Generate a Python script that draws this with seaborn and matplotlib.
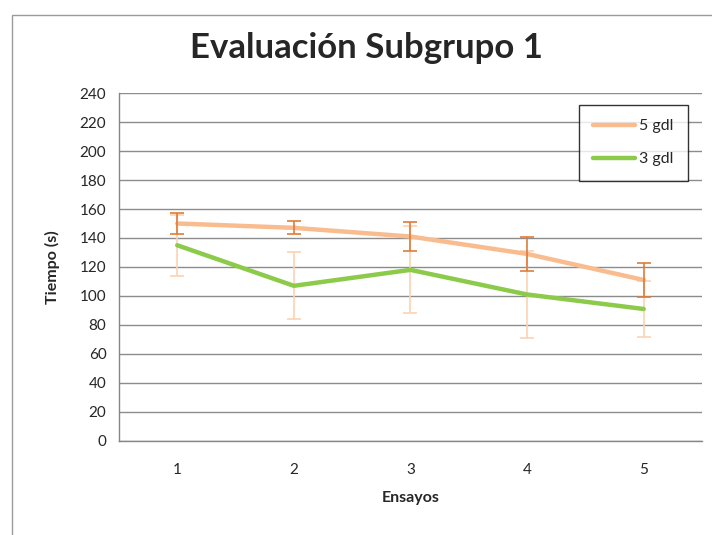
import matplotlib
matplotlib.use("Agg")
import matplotlib.pyplot as plt
import seaborn as sns
import pandas as pd
from matplotlib.patches import Rectangle

ensayos = [1, 2, 3, 4, 5]
serie_5gdl = [150, 147, 141, 129, 111]
err_5gdl = [7.5, 4.5, 10, 11.5, 11.5]
serie_3gdl = [135, 107, 118, 101, 91]
err_3gdl = [21, 23, 30, 30, 19]
series_names = ["5 gdl", "3 gdl"]
yticks = list(range(0, 241, 20))

sns.set_style("white")
plt.rcParams['font.family'] = ['Lato', 'DejaVu Sans']

df = pd.DataFrame({
    "Ensayos": ensayos * 2,
    "Tiempo": serie_5gdl + serie_3gdl,
    "Serie": [series_names[0]] * 5 + [series_names[1]] * 5,
})

fig = plt.figure(figsize=(7.12, 5.35), dpi=100)
ax = fig.add_axes([0.167, 0.176, 0.819, 0.650])

c_orange = "#F9BC8E"
c_green = "#8CCB4A"

# error bars
ax.errorbar(ensayos, serie_3gdl, yerr=err_3gdl, fmt="none", ecolor="#FBD3B4",
            elinewidth=1.2, capsize=5, capthick=1.2, zorder=2)
ax.errorbar(ensayos, serie_5gdl, yerr=err_5gdl, fmt="none", ecolor="#E07B39",
            elinewidth=1.2, capsize=5, capthick=1.2, zorder=4)

sns.lineplot(data=df, x="Ensayos", y="Tiempo", hue="Serie",
             palette={series_names[0]: c_orange, series_names[1]: c_green},
             linewidth=3.2, ax=ax, legend=True, zorder=3)

ax.set_xlim(0.5, 5.5)
ax.set_ylim(0, 240)
ax.set_yticks(yticks)
ax.set_xticks(ensayos)
ax.set_xticks([0.5, 1.5, 2.5, 3.5, 4.5, 5.5], minor=True)
ax.tick_params(axis="x", which="major", length=0, labelsize=11, pad=16)
ax.tick_params(axis="x", which="minor", length=5, color="#868686", direction="out")
ax.tick_params(axis="y", length=5, color="#868686", direction="out", labelsize=11, pad=4)
ax.grid(axis="y", color="#8C8C8C", linewidth=1.0)
ax.set_axisbelow(True)
for s in ["top", "right"]:
    ax.spines[s].set_visible(False)
for s in ["left", "bottom"]:
    ax.spines[s].set_color("#868686")
    ax.spines[s].set_linewidth(1.0)

ax.set_xlabel("Ensayos", fontsize=11.5, fontweight="bold", labelpad=10)
ax.set_ylabel("Tiempo (s)", fontsize=11.5, fontweight="bold", labelpad=14)

fig.suptitle("Evaluación Subgrupo 1", x=0.515, y=0.94, fontsize=25, fontweight="bold")

leg = ax.legend(loc="upper right", bbox_to_anchor=(0.99, 0.99), frameon=True,
                fancybox=False, edgecolor="black", fontsize=11.5, handlelength=2.6,
                borderpad=0.9, labelspacing=1.2, handletextpad=0.3)
leg.get_frame().set_linewidth(1.0)
for line in leg.get_lines():
    line.set_linewidth(3.2)

fig.patches.append(Rectangle((0.017, -0.05), 1.1, 1.022, transform=fig.transFigure,
                             fill=False, edgecolor="#9A9A9A", linewidth=1.0))

fig.savefig("out.png", dpi=100)
